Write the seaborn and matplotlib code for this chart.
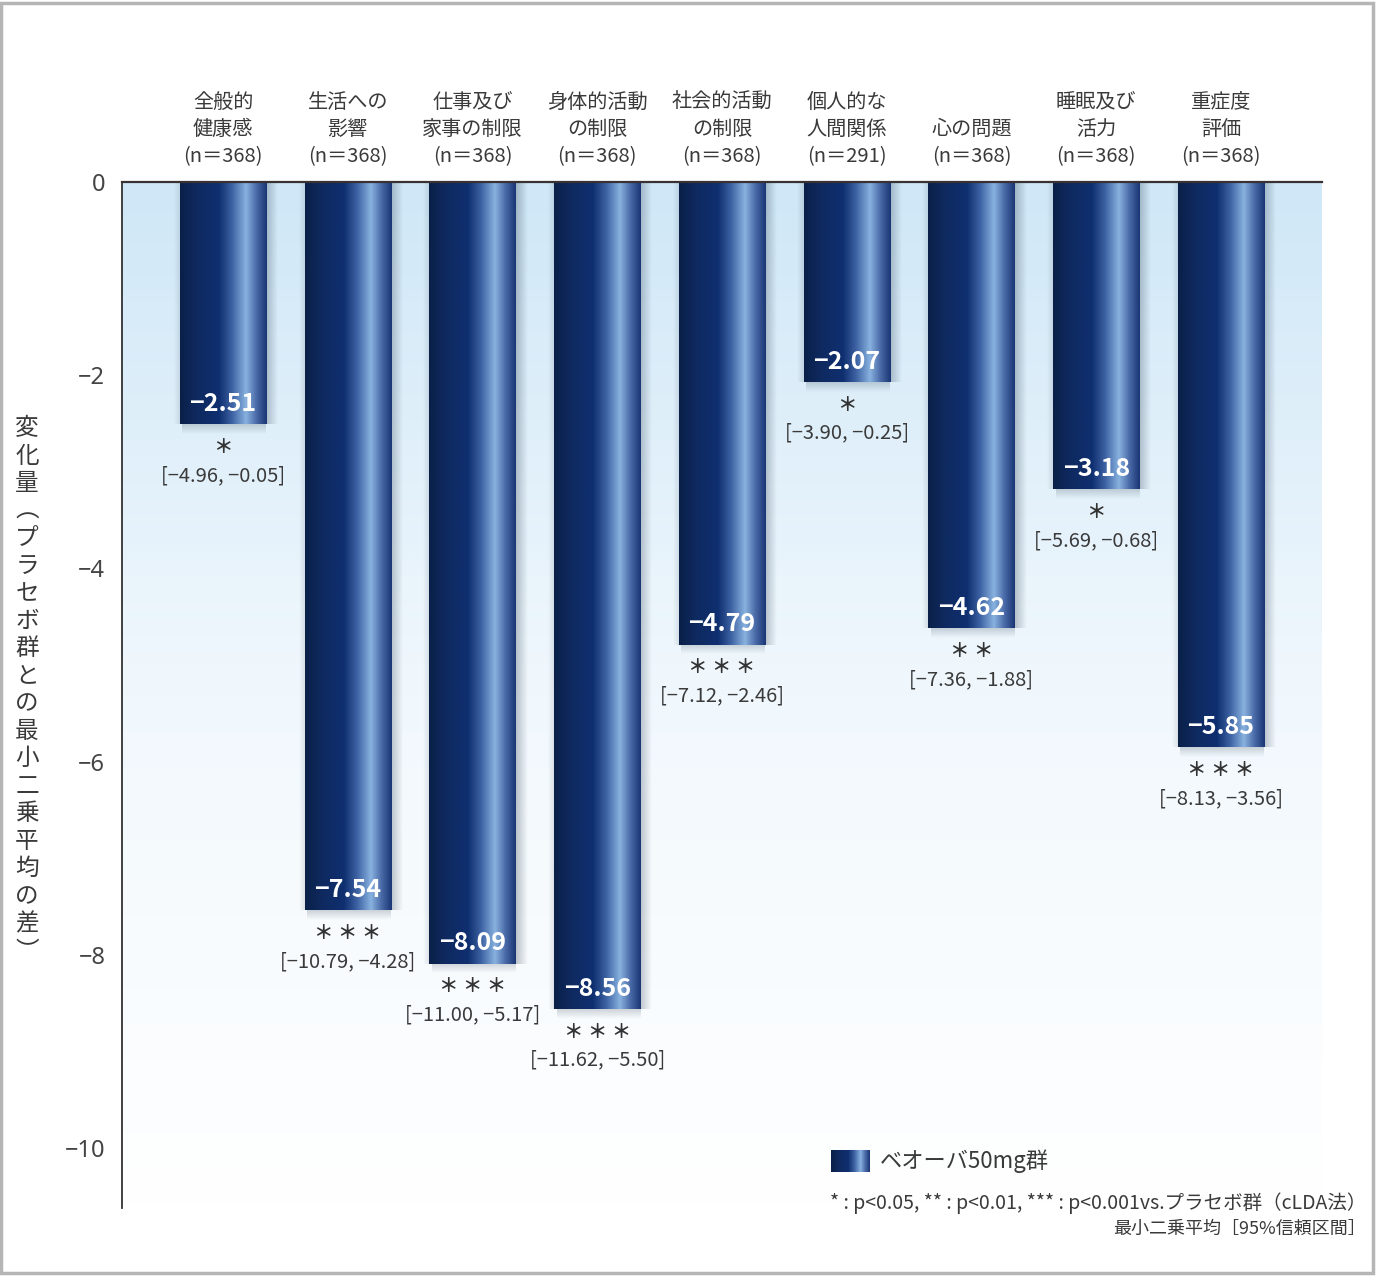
import numpy as np
import pandas as pd
import matplotlib
matplotlib.use("Agg")
import matplotlib.pyplot as plt
import seaborn as sns
from matplotlib.colors import LinearSegmentedColormap, to_rgb
from matplotlib.patches import Rectangle

# Data
categories = ["全般的\n健康感", "生活への\n影響", "仕事及び\n家事の制限", "身体的活動\nの制限",
              "社会的活動\nの制限", "個人的な\n人間関係", "心の問題", "睡眠及び\n活力", "重症度\n評価"]
n_sizes = [368, 368, 368, 368, 368, 291, 368, 368, 368]
values = [-2.51, -7.54, -8.09, -8.56, -4.79, -2.07, -4.62, -3.18, -5.85]
ci_low = [-4.96, -10.79, -11.00, -11.62, -7.12, -3.90, -7.36, -5.69, -8.13]
ci_high = [-0.05, -4.28, -5.17, -5.50, -2.46, -0.25, -1.88, -0.68, -3.56]
signif = ["＊", "＊ ＊ ＊", "＊ ＊ ＊", "＊ ＊ ＊", "＊ ＊ ＊", "＊", "＊ ＊", "＊", "＊ ＊ ＊"]
yticks = [0, -2, -4, -6, -8, -10]

labels = [f"{c}\n(n＝{n})" for c, n in zip(categories, n_sizes)]
df = pd.DataFrame({"label": labels, "value": values})

sns.set_style("white")
plt.rcParams["font.family"] = ["Noto Sans CJK JP", "DejaVu Sans"]
TXT = "#3a3a3a"

fig = plt.figure(figsize=(13.76, 12.76), dpi=100)
ax = fig.add_axes([122 / 1376, 68 / 1276, 1200 / 1376, 1026 / 1276])

sns.barplot(data=df, x="label", y="value", width=0.69, color="#12306e", ax=ax, zorder=3)

xlim = (-0.81, 8.81)
ylim = (-10.62, 0)

# background gradient (light blue -> white)
bg_cmap = LinearSegmentedColormap.from_list("bg", ["#ffffff", "#f1f8fd", "#cfe7f7"])
ax.imshow(np.linspace(0, 1, 256).reshape(-1, 1), cmap=bg_cmap, origin="lower",
          extent=[xlim[0], xlim[1], ylim[0], ylim[1]], aspect="auto", zorder=0)

# bar gradient
bar_cmap = LinearSegmentedColormap.from_list("bar", [
    (0.0, "#0a2048"), (0.2, "#0f2a60"), (0.45, "#0f2f70"), (0.6, "#3d62a3"),
    (0.76, "#88b2df"), (0.88, "#4a6aa8"), (1.0, "#1a3674")])
grad = np.linspace(0, 1, 256).reshape(1, -1)

shadow_rgb = to_rgb("#2c3e50")
for p in list(ax.patches):
    x0, w, h = p.get_x(), p.get_width(), p.get_height()
    # soft shadow on the right and below
    sh = np.zeros((1, 64, 4))
    sh[..., :3] = shadow_rgb
    sh[..., 3] = np.linspace(0.3, 0, 64)
    ax.imshow(sh, extent=[x0 + w, x0 + w + 0.09, h, 0], aspect="auto", zorder=2)
    shl = sh.copy()
    shl[..., 3] = np.linspace(0, 0.15, 64)
    ax.imshow(shl, extent=[x0 - 0.05, x0, h, 0], aspect="auto", zorder=2)
    sv = np.zeros((64, 1, 4))
    sv[..., :3] = shadow_rgb
    sv[..., 3] = np.linspace(0, 0.22, 64).reshape(-1, 1)
    ax.imshow(sv, extent=[x0 + 0.02, x0 + w, h - 0.1, h], origin="lower",
              aspect="auto", zorder=2)
    ax.imshow(grad, cmap=bar_cmap, extent=[x0, x0 + w, h, 0], aspect="auto", zorder=3)
    p.set_visible(False)

# value labels, significance and CI
for i, (v, lo, hi, s) in enumerate(zip(values, ci_low, ci_high, signif)):
    ax.text(i, v + 0.21, f"−{abs(v):.2f}", ha="center", va="center", color="white",
            fontsize=18, fontweight="bold", zorder=5)
    ax.text(i, v - 0.24, s, ha="center", va="center", color="#333333", fontsize=14,
            fontweight="bold", zorder=5)
    ax.text(i, v - 0.53, f"[−{abs(lo):.2f}, −{abs(hi):.2f}]", ha="center", va="center",
            color=TXT, fontsize=14.5, zorder=5)

ax.set_xlim(*xlim)
ax.set_ylim(*ylim)
ax.set_yticks(yticks)
ax.set_yticklabels([f"−{abs(t)}" if t else "0" for t in yticks],
                   family=["Noto Sans", "DejaVu Sans"], fontweight="normal")
ax.xaxis.tick_top()
ax.tick_params(axis="x", length=0, pad=11, labelsize=14.5, labelcolor=TXT)
ax.tick_params(axis="y", direction="in", length=9, width=1.2, color="#333333",
               pad=12, labelsize=17, labelcolor="#444444")
ax.set_xlabel("")
ax.set_ylabel("")
for lab in ax.get_xticklabels():
    lab.set_linespacing(1.38)

for side in ["right", "bottom"]:
    ax.spines[side].set_visible(False)
ax.spines["left"].set_color("#333333")
ax.spines["left"].set_linewidth(1.3)
ax.spines["top"].set_color("#3a3232")
ax.spines["top"].set_linewidth(1.6)
ax.spines["top"].set_zorder(6)

# vertical y label
ylab = "変化量︵プラセボ群との最小二乗平均の差︶"
fig.text(27 / 1376, 1 - 690 / 1276, "\n".join(ylab), ha="center", va="center",
         fontsize=17, color=TXT, linespacing=1.25)

# legend swatch
lax = fig.add_axes([831 / 1376, 1 - 1172 / 1276, 39 / 1376, 22 / 1276])
lax.imshow(grad, cmap=bar_cmap, aspect="auto")
lax.axis("off")
fig.text(880 / 1376, 1 - 1161 / 1276, "ベオーバ50mg群", ha="left", va="center",
         fontsize=16, color=TXT)

fig.text(1366 / 1376, 1 - 1203 / 1276,
         "* : p<0.05, ** : p<0.01, *** : p<0.001vs.プラセボ群（cLDA法）",
         ha="right", va="center", fontsize=14, color=TXT)
fig.text(1366 / 1376, 1 - 1229 / 1276, "最小二乗平均［95%信頼区間］",
         ha="right", va="center", fontsize=13, color=TXT)

fig.patches.append(Rectangle((0.001, 0.002), 0.997, 0.996, transform=fig.transFigure,
                             fill=False, ec="#b5b5b5", lw=2.5))

fig.savefig("out.png", dpi=100)
